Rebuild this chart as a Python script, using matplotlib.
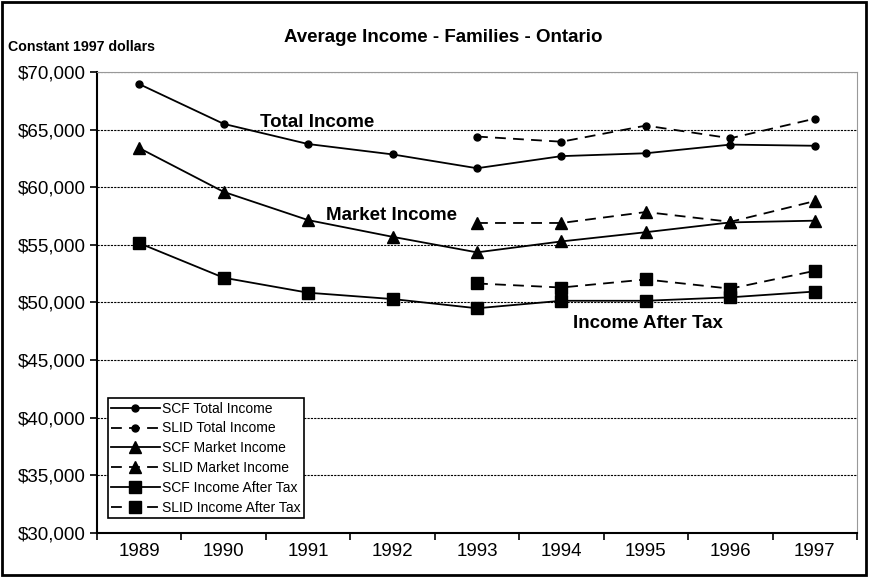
import matplotlib.pyplot as plt
import numpy as np

plt.rcParams['font.family'] = ['Liberation Sans', 'DejaVu Sans']

years = ['1989', '1990', '1991', '1992', '1993', '1994', '1995', '1996', '1997']
slid_years = ['1993', '1994', '1995', '1996', '1997']

scf_total = [68950, 65500, 63750, 62850, 61650, 62700, 62950, 63700, 63600]
slid_total = [64400, 63950, 65350, 64250, 65950]
scf_market = [63400, 59600, 57150, 55700, 54350, 55300, 56100, 56950, 57100]
slid_market = [56900, 56900, 57850, 57000, 58800]
scf_after = [55150, 52150, 50850, 50300, 49500, 50150, 50150, 50450, 50950]
slid_after = [51650, 51300, 52000, 51200, 52750]

x = np.arange(len(years))
xs = np.arange(len(years) - len(slid_years), len(years))

fig = plt.figure(figsize=(8.69, 5.77), dpi=100)
ax = fig.add_axes([97 / 869, 44 / 577, 760 / 869, 461 / 577])

dash = (0, (6, 4))
ax.plot(x, scf_total, '-', color='black', lw=1.3, marker='o', ms=5, label='SCF Total Income')
ax.plot(xs, slid_total, linestyle=dash, color='black', lw=1.3, marker='o', ms=5, label='SLID Total Income')
ax.plot(x, scf_market, '-', color='black', lw=1.3, marker='^', ms=8, label='SCF Market Income')
ax.plot(xs, slid_market, linestyle=dash, color='black', lw=1.3, marker='^', ms=8, label='SLID Market Income')
ax.plot(x, scf_after, '-', color='black', lw=1.3, marker='s', ms=8, label='SCF Income After Tax')
ax.plot(xs, slid_after, linestyle=dash, color='black', lw=1.3, marker='s', ms=8, label='SLID Income After Tax')

ax.set_ylim(30000, 70000)
ax.set_xlim(-0.5, len(years) - 0.5)
ax.set_yticks(np.arange(30000, 70001, 5000))
ax.set_yticklabels(['${:,}'.format(v) for v in range(30000, 70001, 5000)], fontsize=13.5)
ax.yaxis.grid(True, linestyle=(0, (2, 1)), color='black', lw=0.8)
ax.set_axisbelow(True)

# ticks between categories, labels centred on them
ax.set_xticks(np.arange(-0.5, len(years)))
ax.set_xticklabels([])
ax.set_xticks(x, minor=True)
ax.set_xticklabels(years, minor=True, fontsize=13.5)
ax.tick_params(axis='x', which='major', direction='out', length=5, width=1.2)
ax.tick_params(axis='x', which='minor', length=0, pad=7)
ax.tick_params(axis='y', direction='out', length=5, width=1.2, pad=3)

for s in ['top', 'right']:
    ax.spines[s].set_color('#999999')
    ax.spines[s].set_linestyle((0, (1, 1)))
for s in ['left', 'bottom']:
    ax.spines[s].set_linewidth(1.5)

ax.text(1.43, 65200, 'Total Income', fontsize=13.5, fontweight='bold')
ax.text(2.21, 57130, 'Market Income', fontsize=13.5, fontweight='bold')
ax.text(5.14, 47750, 'Income After Tax', fontsize=13.5, fontweight='bold')

leg = ax.legend(loc='lower left', bbox_to_anchor=(0.014, 0.032), fontsize=10, frameon=True,
                fancybox=False, edgecolor='black', framealpha=1, handlelength=3.5,
                borderpad=0.25, labelspacing=0.42, handletextpad=0.15, borderaxespad=0)
leg.get_frame().set_linewidth(1.2)

fig.text(443 / 869, 1 - 38 / 577, 'Average Income - Families - Ontario', fontsize=13.5,
         fontweight='bold', ha='center', va='center')
fig.text(8 / 869, 1 - 47 / 577, 'Constant 1997 dollars', fontsize=10.2,
         fontweight='bold', ha='left', va='center')

fig.patches.append(plt.Rectangle((0.002, 0.003), 0.995, 0.994, transform=fig.transFigure,
                                 fill=False, edgecolor='black', lw=2))

fig.savefig('out.png', dpi=100)
